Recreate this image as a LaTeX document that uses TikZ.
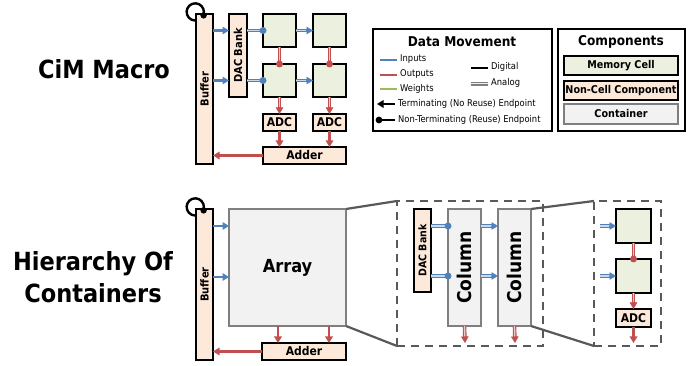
\documentclass[tikz,border=0pt]{standalone}
\usepackage{fontspec}
\usepackage{graphicx}
\setmainfont{DejaVu Sans Condensed}
\usetikzlibrary{arrows.meta,calc}
\definecolor{blueL}{HTML}{4F81BD}
\definecolor{redL}{HTML}{C0504D}
\definecolor{greenL}{HTML}{9BBB59}
\definecolor{cellG}{HTML}{EBF1DE}
\definecolor{peach}{HTML}{FDE9D9}
\definecolor{grayF}{HTML}{F2F2F2}
\definecolor{grayB}{HTML}{7F7F7F}
\definecolor{dashG}{HTML}{595959}
\tikzset{
  bx/.style={inner sep=0pt, outer sep=0pt, anchor=north west, line width=2.4pt},
  cellbox/.style={bx, draw=black, fill=cellG},
  peachbox/.style={bx, draw=black, fill=peach, font=\bfseries\fontsize{12}{12}\selectfont},
  contbox/.style={bx, draw=grayB, fill=grayF},
  legbox/.style={bx, draw=black, line width=2.5pt},
  dbox/.style={bx, draw=dashG, line width=2.2pt, dash pattern=on 8pt off 6pt},
  zoomline/.style={draw=dashG, line width=2.2pt},
  tipA/.style={-{Triangle[length=6.5pt 0,width=7.5pt 0]}},
  dig/.style={line width=2.2pt, tipA},
  legtxt/.style={anchor=west, inner sep=0pt, font=\fontsize{9.3}{10}\selectfont},
  comptxt/.style={font=\bfseries\fontsize{10.7}{11}\selectfont},
}
\newcommand\rtxt[2]{\rotatebox{90}{\bfseries\fontsize{#1}{#1}\selectfont #2}}
% analog connector with arrow head: colour, from, to
\newcommand\anaA[3]{%
  \draw[#1, line width=3.6pt, shorten >=5pt] #2 -- #3;
  \draw[#1!30, line width=1.3pt, shorten >=5pt] #2 -- #3;
  \draw[#1, line width=0.5pt, tipA] ($#3!7pt!#2$) -- #3;}
% analog connector ending in a dot
\newcommand\anaD[3]{%
  \draw[#1, line width=3.6pt] #2 -- #3;
  \draw[#1!30, line width=1.3pt] #2 -- #3;
  \fill[#1] #3 circle (3.5pt);}
\begin{document}
\begin{tikzpicture}[x=1pt,y=-1pt]
\useasboundingbox (0,0) rectangle (694,366);

% ---------- titles ----------
\node[font=\bfseries\fontsize{25}{30}\selectfont] (t1) at (104,69) {CiM Macro};
\node[font=\bfseries\fontsize{25}{32}\selectfont, align=center] (t2) at (93,277) {Hierarchy Of\\Containers};

% ---------- CiM macro ----------
\draw[line width=2.4pt] (198.2,20) arc[start angle=-70, end angle=-380, radius=8.6pt];
\node[peachbox, minimum width=17pt, minimum height=150pt] (buf1) at (196,14) {\rtxt{11}{Buffer}};
\fill (203.6,15.4) circle (3.2pt);
\node[peachbox, minimum width=18pt, minimum height=83pt] (dac1) at (229,14) {\rtxt{11}{DAC Bank}};
\node[cellbox, minimum width=33pt, minimum height=33pt] (c11) at (263,14) {};
\node[cellbox, minimum width=33pt, minimum height=33pt] (c12) at (313,14) {};
\node[cellbox, minimum width=33pt, minimum height=33pt] (c21) at (263,64) {};
\node[cellbox, minimum width=33pt, minimum height=33pt] (c22) at (313,64) {};
\node[peachbox, minimum width=33pt, minimum height=17pt] (adc1) at (263,114) {ADC};
\node[peachbox, minimum width=33pt, minimum height=17pt] (adc2) at (313,114) {ADC};
\node[peachbox, minimum width=83pt, minimum height=17pt] (add1) at (263,147) {Adder};

\draw[blueL, dig] (buf1.east|-c11.west) -- (dac1.west|-c11.west);
\draw[blueL, dig] (buf1.east|-c21.west) -- (dac1.west|-c21.west);
\anaD{blueL}{(dac1.east|-c11.west)}{(c11.west)}
\anaD{blueL}{(dac1.east|-c21.west)}{(c21.west)}
\anaA{blueL}{(c11.east)}{(c12.west)}
\anaA{blueL}{(c21.east)}{(c22.west)}
\anaD{redL}{(c11.south)}{(c21.north)}
\anaD{redL}{(c12.south)}{(c22.north)}
\anaA{redL}{(c21.south)}{(adc1.north)}
\anaA{redL}{(c22.south)}{(adc2.north)}
\draw[redL, dig] (adc1.south) -- (adc1.south|-add1.north);
\draw[redL, dig] (adc2.south) -- (adc2.south|-add1.north);
\draw[redL, dig] (add1.west) -- (buf1.east|-add1.west);

% ---------- legends ----------
\node[legbox, minimum width=179pt, minimum height=102pt] (lg1) at (373,29) {};
\node[font=\bfseries\fontsize{13.5}{14}\selectfont] (lg1t) at (462,42) {Data Movement};
\coordinate (li1) at (380,60); \coordinate (li1e) at (397,60);
\coordinate (lo1) at (380,75); \coordinate (lo1e) at (397,75);
\coordinate (lw1) at (380,89); \coordinate (lw1e) at (397,89);
\draw[blueL, line width=2.2pt] (li1) -- (li1e);
\draw[redL, line width=2.2pt] (lo1) -- (lo1e);
\draw[greenL, line width=2.2pt] (lw1) -- (lw1e);
\node[legtxt] (lit) at (400,59.5) {Inputs};
\node[legtxt] (lot) at (400,74.5) {Outputs};
\node[legtxt] (lwt) at (400,89) {Weights};
\coordinate (ld1) at (471,68); \coordinate (ld1e) at (488,68);
\coordinate (la1) at (471,84); \coordinate (la1e) at (488,84);
\draw[black, line width=2.2pt] (ld1) -- (ld1e);
\draw[grayB, line width=3.2pt] (la1) -- (la1e);
\draw[white!85!grayB, line width=1pt] (la1) -- (la1e);
\node[legtxt] (ldt) at (491,67) {Digital};
\node[legtxt] (lat) at (491,83) {Analog};
\coordinate (lt1) at (377,104); \coordinate (lt1e) at (395,104);
\coordinate (ln1) at (379,120); \coordinate (ln1e) at (395,120);
\draw[black, line width=2.2pt, {Triangle[length=6.5pt 0,width=7.5pt 0]}-] (lt1) -- (lt1e);
\draw[black, line width=2.2pt] (ln1) -- (ln1e);
\fill (ln1) circle (3.4pt);
\node[legtxt] (ltt) at (398,104) {Terminating (No Reuse) Endpoint};
\node[legtxt] (lnt) at (398,120) {Non-Terminating (Reuse) Endpoint};

\node[legbox, minimum width=127pt, minimum height=102pt] (lg2) at (558,29) {};
\node[font=\bfseries\fontsize{13.5}{14}\selectfont] (lg2t) at (621,42) {Components};
\node[cellbox, comptxt, minimum width=114pt, minimum height=19pt] (lmc) at (564,56) {Memory Cell};
\node[peachbox, comptxt, minimum width=114pt, minimum height=19pt] (lnc) at (564,81) {Non-Cell Component};
\node[contbox, comptxt, minimum width=114pt, minimum height=20pt] (lct) at (564,104) {Container};

% ---------- hierarchy ----------
\draw[line width=2.4pt] (198.2,215) arc[start angle=-70, end angle=-380, radius=8.6pt];
\node[peachbox, minimum width=17pt, minimum height=151pt] (buf2) at (196,209) {\rtxt{11}{Buffer}};
\fill (203.6,210.4) circle (3.2pt);
\node[contbox, minimum width=117pt, minimum height=117pt, font=\bfseries\fontsize{18}{18}\selectfont] (arr) at (229,209) {Array};
\node[peachbox, minimum width=84pt, minimum height=17pt] (add2) at (262,343) {Adder};
\coordinate (ai1) at (213,226); \coordinate (ai2) at (213,277);
\draw[blueL, dig] (ai1) -- (arr.west|-ai1);
\draw[blueL, dig] (ai2) -- (arr.west|-ai2);
\coordinate (ao1) at (278,326); \coordinate (ao2) at (329,326);
\draw[redL, dig] (ao1) -- (ao1|-add2.north);
\draw[redL, dig] (ao2) -- (ao2|-add2.north);
\draw[redL, dig] (add2.west) -- (buf2.east|-add2.west);

\node[dbox, minimum width=146pt, minimum height=145pt] (db1) at (397,201) {};
\draw[zoomline] (arr.north east) -- (db1.north west);
\draw[zoomline] (arr.south east) -- (db1.south west);
\node[peachbox, minimum width=17pt, minimum height=83pt] (dac2) at (414,209) {\rtxt{10.5}{DAC Bank}};
\node[contbox, minimum width=33pt, minimum height=117pt] (col1) at (448,209) {\rtxt{19}{Column}};
\node[contbox, minimum width=33pt, minimum height=117pt] (col2) at (498,209) {\rtxt{19}{Column}};
\coordinate (r1) at (431,226); \coordinate (r2) at (431,276);
\anaD{blueL}{(r1)}{(col1.west|-r1)}
\anaD{blueL}{(r2)}{(col1.west|-r2)}
\anaA{blueL}{(col1.east|-r1)}{(col2.west|-r1)}
\anaA{blueL}{(col1.east|-r2)}{(col2.west|-r2)}
\coordinate (ce1) at (465,343); \coordinate (ce2) at (515,343);
\anaA{redL}{(col1.south)}{(ce1)}
\anaA{redL}{(col2.south)}{(ce2)}

\node[dbox, minimum width=67pt, minimum height=145pt] (db2) at (594,201) {};
\draw[zoomline] (col2.north east) -- (db2.north west);
\draw[zoomline] (col2.south east) -- (db2.south west);
\node[cellbox, minimum width=35pt, minimum height=34pt] (c3a) at (616,209) {};
\node[cellbox, minimum width=35pt, minimum height=34pt] (c3b) at (616,259) {};
\node[peachbox, minimum width=35pt, minimum height=18pt] (adc3) at (616,309) {ADC};
\coordinate (s1) at (600,226); \coordinate (s2) at (600,276);
\anaA{blueL}{(s1)}{(c3a.west|-s1)}
\anaA{blueL}{(s2)}{(c3b.west|-s2)}
\anaD{redL}{(c3a.south)}{(c3b.north)}
\anaA{redL}{(c3b.south)}{(adc3.north)}
\coordinate (ae) at (633.5,343);
\draw[redL, dig] (adc3.south) -- (ae);
\end{tikzpicture}
\end{document}
